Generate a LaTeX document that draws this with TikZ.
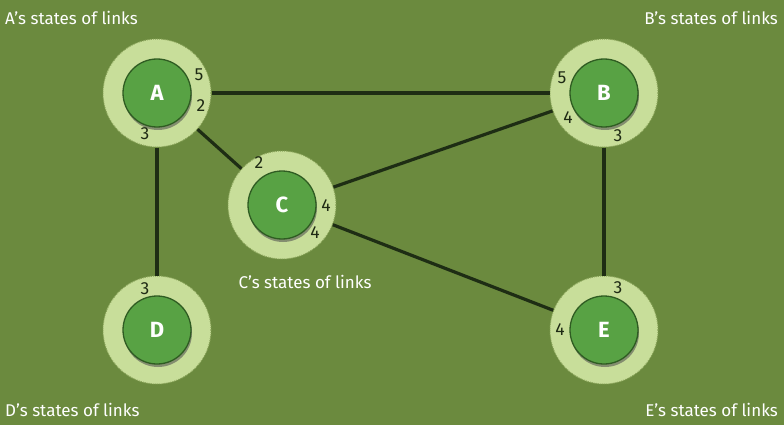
\documentclass[tikz,border=0pt]{standalone}
\usepackage{fontspec}
\setmainfont{Fira Sans}
\usetikzlibrary{shadows}
\definecolor{bg}{HTML}{6B8A3E}
\definecolor{ring}{HTML}{C8DE9A}
\definecolor{ringedge}{HTML}{8AA45A}
\definecolor{inner}{HTML}{58A244}
\definecolor{inneredge}{HTML}{2F5C22}
\definecolor{linkc}{HTML}{1E2D14}
\definecolor{numc}{HTML}{1E2A14}
\tikzset{
  router/.style={circle, minimum size=108pt, inner sep=0pt, fill=ring, draw=ringedge, densely dotted, line width=1pt},
  core/.style={circle, minimum size=68pt, inner sep=0pt, fill=inner, draw=inneredge, solid, line width=1.3pt,
     drop shadow={shadow xshift=1pt, shadow yshift=-3pt, fill=black!70, opacity=0.55},
     text=white, font=\fontsize{22}{24}\selectfont\bfseries},
  link/.style={draw=linkc, line width=3.2pt},
  num/.style={text=numc, font=\fontsize{17.5}{19}\selectfont, inner sep=0pt},
  captext/.style={text=white, font=\fontsize{17}{20}\selectfont, inner sep=0pt}
}
\begin{document}
\begin{tikzpicture}[x=1pt,y=-1pt]
\fill[bg] (0,0) rectangle (784,425);
\useasboundingbox (0,0) rectangle (784,425);
% outer rings
\node[router] (A) at (157,93) {};
\node[router] (B) at (604,93) {};
\node[router] (C) at (282,205) {};
\node[router] (D) at (157,330) {};
\node[router] (E) at (604,330) {};
% links
\draw[link] (A) -- (B);
\draw[link] (A) -- (C);
\draw[link] (A) -- (D);
\draw[link] (B) -- (C);
\draw[link] (B) -- (E);
\draw[link] (C) -- (E);
% cores
\node[core] (a) at (157,93) {A};
\node[core] (b) at (604,93) {B};
\node[core] (c) at (282,205) {C};
\node[core] (d) at (157,330) {D};
\node[core] (e) at (604,330) {E};
% numbers
\node[num] (a5) at (199,75) {5};
\node[num] (a2) at (201,106) {2};
\node[num] (a3) at (145,134) {3};
\node[num] (b5) at (562,78) {5};
\node[num] (b4) at (568,118) {4};
\node[num] (b3) at (618,136) {3};
\node[num] (c2) at (259,163) {2};
\node[num] (c4a) at (326,206) {4};
\node[num] (c4b) at (315,233) {4};
\node[num] (d3) at (145,289) {3};
\node[num] (e3) at (618,288) {3};
\node[num] (e4) at (560,330) {4};
% captions
\node[captext, anchor=west] (ta) at (5,18) {A’s states of links};
\node[captext, anchor=east] (tb) at (778,18) {B’s states of links};
\node[captext] (tc) at (305,282) {C’s states of links};
\node[captext, anchor=west] (td) at (5,410) {D’s states of links};
\node[captext, anchor=east] (te) at (778,410) {E’s states of links};
\end{tikzpicture}
\end{document}
